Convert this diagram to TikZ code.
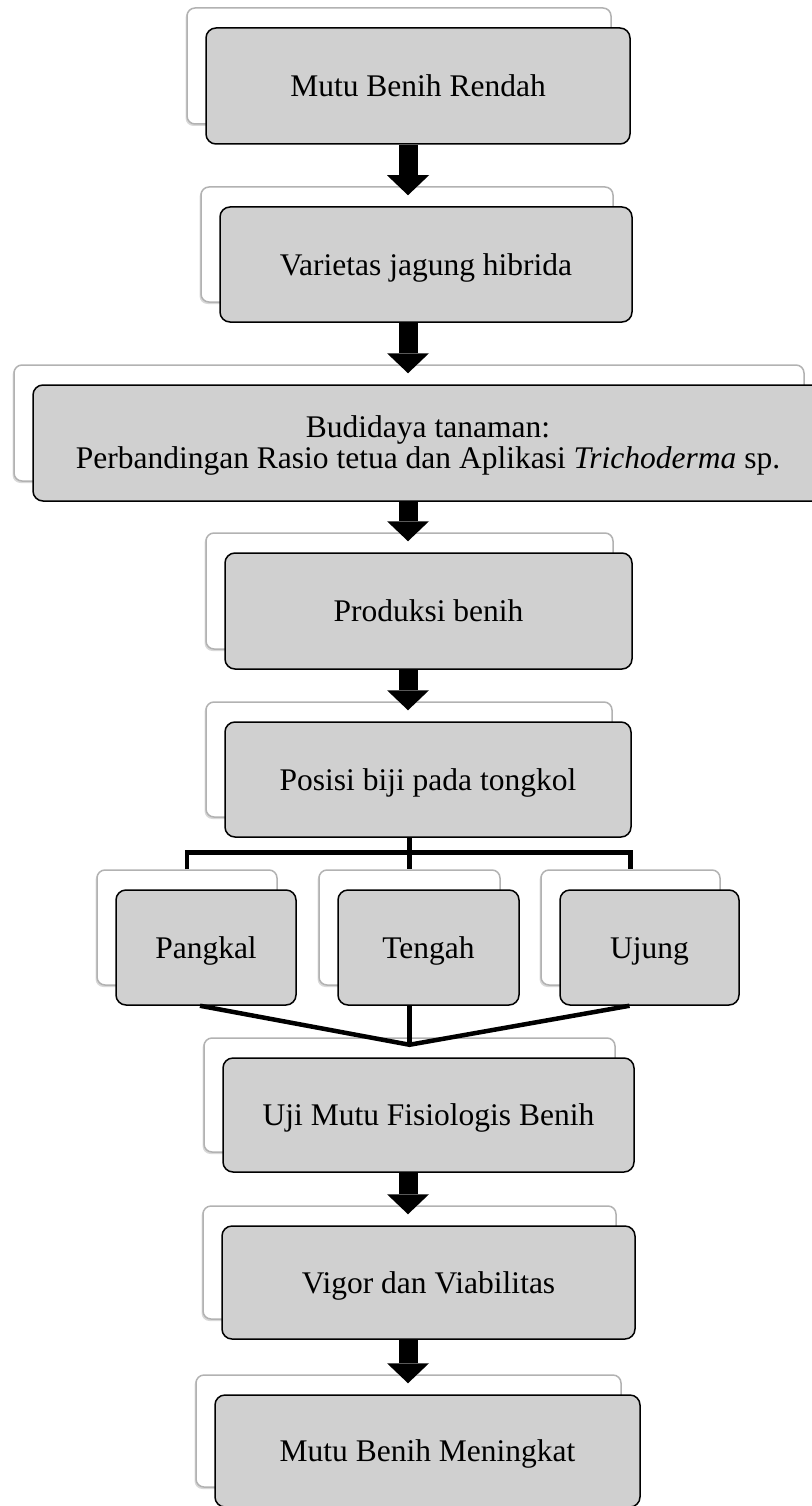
\documentclass[tikz,border=0pt]{standalone}
\usepackage{fontspec}
\setmainfont{Liberation Serif}
\usetikzlibrary{arrows.meta}
\usetikzlibrary{shadows}
\tikzstyle{backbox}=[draw=gray!60,line width=1.5pt,fill=white,rounded corners=8pt,
  drop shadow={shadow xshift=-1.5pt,shadow yshift=-2pt,opacity=0.3}]
\tikzstyle{frontbox}=[draw=black,line width=1.5pt,fill=gray!37,rounded corners=10pt,
  align=center,inner sep=0pt,font=\fontsize{31.5}{30}\selectfont]
\tikzstyle{oneline}=[text height=21.5pt,text depth=0pt]
\tikzstyle{bigarrow}=[line width=19pt,shorten >=11pt,
  -{Triangle[width=42pt,length=20pt,line width=0pt]}]
\tikzstyle{link}=[line width=4.5pt]
\newcommand{\boxpair}[7][oneline]{%
  \node[backbox,minimum width=#5pt,minimum height=#6pt] (#2B) at (#3,#4) {};
  \node[frontbox,minimum width=#5pt,minimum height=#6pt,#1] (#2) at ([shift={(19,20)}]#2B) {#7};}

\begin{document}
\begin{tikzpicture}[x=1pt,y=-1pt]
\useasboundingbox (0,0) rectangle (811,1506);
\coordinate (ax) at (408,0);
\boxpair{rendah}{399}{66}{424}{116}{Mutu Benih Rendah}
\boxpair{varietas}{407}{244.5}{412}{115}{Varietas jagung hibrida}
\boxpair[]{budidaya}{409}{423}{790}{116}{\\[-4pt]Budidaya tanaman:\\[1pt]Perbandingan Rasio tetua dan Aplikasi \textit{Trichoderma} sp.}
\boxpair{produksi}{409.5}{591}{407}{116}{Produksi benih}
\boxpair{posisi}{409}{759.5}{406}{115}{Posisi biji pada tongkol}
\boxpair{pangkal}{187}{927.5}{180}{115}{Pangkal}
\boxpair{tengah}{409.5}{927.5}{181}{115}{Tengah}
\boxpair{ujung}{630.5}{927.5}{179}{115}{Ujung}
\boxpair{uji}{409.5}{1095}{411}{114}{Uji Mutu Fisiologis Benih}
\boxpair{vigor}{409.5}{1262.5}{413}{113}{Vigor dan Viabilitas}
\boxpair{meningkat}{408.5}{1431}{425}{112}{Mutu Benih Meningkat}

\draw[bigarrow] (rendah.south -| ax) -- (varietas.north -| ax);
\draw[bigarrow] (varietas.south -| ax) -- (budidaya.north -| ax);
\draw[bigarrow] (budidaya.south -| ax) -- (produksi.north -| ax);
\draw[bigarrow] (produksi.south -| ax) -- (posisi.north -| ax);
\draw[bigarrow] (uji.south -| ax) -- (vigor.north -| ax);
\draw[bigarrow] (vigor.south -| ax) -- (meningkat.north -| ax);

\coordinate (split) at ([yshift=17pt]tengahB.north);
\draw[link] (posisi.south -| tengahB) -- (tengahB.north);
\draw[link] (pangkalB.north) |- (split) -| (ujungB.north);

\coordinate (join) at ([yshift=-59pt]tengahB.south);
\draw[link] ([xshift=-6pt]pangkal.south) -- (join) -- ([xshift=-20pt]ujung.south);
\draw[link] (tengah.south -| join) -- (join);
\end{tikzpicture}
\end{document}
